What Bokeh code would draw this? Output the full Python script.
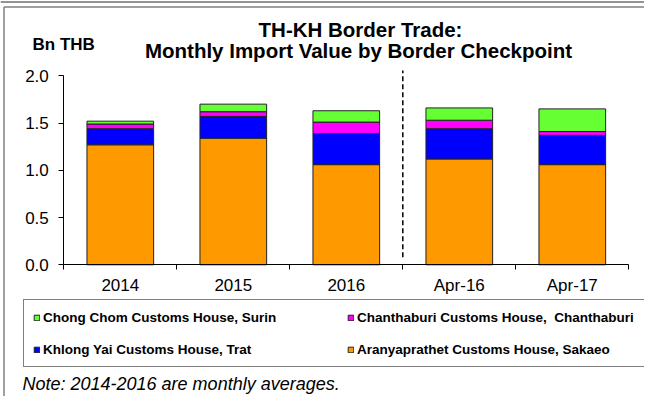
from bokeh.plotting import figure
from bokeh.models import (ColumnDataSource, FixedTicker, Label, Legend, LegendItem,
                          NumeralTickFormatter, Range1d)
from bokeh.embed import file_html
from bokeh.resources import INLINE

categories = ["2014", "2015", "2016", "Apr-16", "Apr-17"]
aranyaprathet = [1.27, 1.34, 1.06, 1.12, 1.06]
khlong_yai = [0.17, 0.23, 0.33, 0.32, 0.31]
chanthaburi = [0.05, 0.05, 0.12, 0.09, 0.04]
chong_chom = [0.03, 0.08, 0.12, 0.13, 0.24]
series_names = ["Aranyaprathet Customs House, Sakaeo",
                "Khlong Yai Customs House, Trat",
                "Chanthaburi Customs House,  Chanthaburi",
                "Chong Chom Customs House, Surin"]
series_keys = ["aranya", "khlong", "chanta", "chong"]
colors = ["#FF9900", "#0000FF", "#FF00FF", "#66FF33"]
y_ticks = [0.0, 0.5, 1.0, 1.5, 2.0]
separator_at = 3  # dashed line between 2016 and Apr-16

FONT = "Liberation Sans"
W, H = 644, 396

xs = [i + 0.5 for i in range(len(categories))]
source = ColumnDataSource(dict(x=xs, aranya=aranyaprathet, khlong=khlong_yai,
                               chanta=chanthaburi, chong=chong_chom))

# frame covers the whole canvas; axes are pinned at x=0 / y=0
px_x = 113.0   # pixels per category
px_y = 94.5    # pixels per 1.0 Bn THB
x0_px, y0_px = 63.3, 264.3   # position of origin in canvas pixels
p = figure(width=W, height=H, output_backend="svg", toolbar_location=None,
           x_range=Range1d(-x0_px / px_x, (W - x0_px) / px_x),
           y_range=Range1d(-(H - y0_px) / px_y, y0_px / px_y),
           min_border=0)
p.outline_line_color = None
p.border_fill_color = "white"
p.xgrid.visible = False
p.ygrid.visible = False


def dx(px):
    return (px - x0_px) / px_x


def dy(py):
    return (y0_px - py) / px_y


# chart-area border (top double rule and left edge)
p.segment(x0=[dx(0)], y0=[dy(1.5)], x1=[dx(W)], y1=[dy(1.5)],
          line_color="#707070", line_width=1.5)
p.segment(x0=[dx(3.5)], y0=[dy(6.5)], x1=[dx(W)], y1=[dy(6.5)],
          line_color="#404040", line_width=1.2)
p.segment(x0=[dx(3.5)], y0=[dy(6.5)], x1=[dx(3.5)], y1=[dy(H)],
          line_color="#808080", line_width=1.5)

renderers = p.vbar_stack(series_keys, x="x", width=0.59, source=source,
                         fill_color=colors, line_color="#222222", line_width=1)

p.segment(x0=[separator_at], y0=[0.08], x1=[separator_at], y1=[2.055],
          line_color="black", line_width=1.5, line_dash="5 3")

# axes
p.yaxis.fixed_location = 0
p.yaxis.bounds = (0, 2)
p.yaxis.ticker = FixedTicker(ticks=y_ticks)
p.yaxis.formatter = NumeralTickFormatter(format="0.0")
p.yaxis.minor_tick_line_color = None
p.yaxis.major_tick_out = 5
p.yaxis.major_tick_in = 0
p.yaxis.major_label_standoff = 10
p.yaxis.major_label_text_font = FONT
p.yaxis.major_label_text_font_size = "17px"
p.yaxis.major_label_text_color = "black"
p.yaxis.axis_line_color = "black"
p.yaxis.major_tick_line_color = "black"

p.xaxis.fixed_location = 0
p.xaxis.bounds = (0, len(categories))
p.xaxis.ticker = FixedTicker(ticks=xs, minor_ticks=list(range(len(categories) + 1)))
p.xaxis.major_label_overrides = {x: c for x, c in zip(xs, categories)}
p.xaxis.major_tick_line_color = None
p.xaxis.minor_tick_line_color = "black"
p.xaxis.minor_tick_out = 5
p.xaxis.minor_tick_in = 0
p.xaxis.major_label_standoff = 5
p.xaxis.major_label_text_font = FONT
p.xaxis.major_label_text_font_size = "17px"
p.xaxis.major_label_text_color = "black"
p.xaxis.axis_line_color = "black"


# texts (screen units, measured from the canvas bottom-left)
def lab(x, y, text, size, style="bold", align="left"):
    p.add_layout(Label(x=x, y=y, x_units="screen", y_units="screen", text=text,
                       text_align=align, text_baseline="middle", text_font=FONT,
                       text_font_style=style, text_font_size=size,
                       text_color="black"))


lab(360, H - 29, "TH-KH Border Trade:", "20.5px", align="center")
lab(358, H - 50, "Monthly Import Value by Border Checkpoint", "20.5px", align="center")
lab(32, H - 44, "Bn THB", "17px")
lab(22, H - 383, "Note: 2014-2016 are monthly averages.", "18px", style="italic")

order = [3, 2, 1, 0]
items = [LegendItem(label=series_names[i], renderers=[renderers[i]]) for i in order]
legend = Legend(items=items, orientation="horizontal", nrows=2,
                location=(23, H - 367), glyph_width=7, glyph_height=7,
                label_standoff=3, label_width=288, label_height=16, spacing=16,
                padding=9, margin=0, border_line_color="black",
                border_line_width=1, background_fill_color="white",
                label_text_font=FONT, label_text_font_style="bold",
                label_text_font_size="13.5px", label_text_color="black")
p.add_layout(legend, "center")

open("out.html", "w").write(file_html(p, INLINE))
